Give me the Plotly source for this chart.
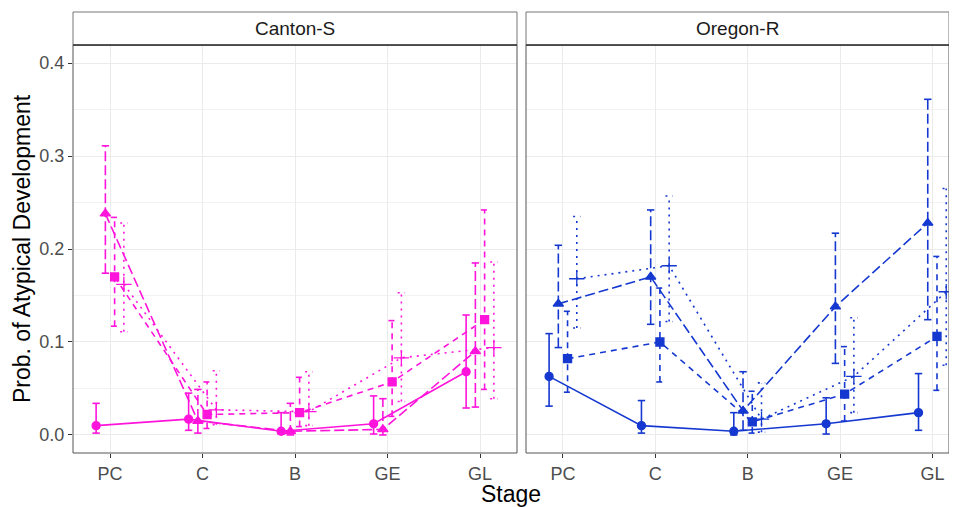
import plotly.graph_objects as go

# ---------------- data ----------------
stages = ["PC", "C", "B", "GE", "GL"]
strains = ["Canton-S", "Oregon-R"]
groups = ["G1", "G2", "G3", "G4"]          # circle/solid, triangle/longdash, square/dash, plus/dot

# Canton-S
cs_g1 = [0.010, 0.017, 0.004, 0.012, 0.068]
cs_g1_lo = [0.002, 0.005, 0.001, 0.001, 0.029]
cs_g1_hi = [0.034, 0.045, 0.024, 0.042, 0.129]
cs_g2 = [0.238, 0.015, 0.004, 0.006, 0.090]
cs_g2_lo = [0.174, 0.002, 0.000, 0.000, 0.030]
cs_g2_hi = [0.311, 0.049, 0.034, 0.039, 0.185]
cs_g3 = [0.170, 0.022, 0.024, 0.057, 0.124]
cs_g3_lo = [0.117, 0.007, 0.009, 0.020, 0.049]
cs_g3_hi = [0.234, 0.057, 0.062, 0.123, 0.242]
cs_g4 = [0.162, 0.027, 0.025, 0.083, 0.094]
cs_g4_lo = [0.111, 0.011, 0.010, 0.036, 0.039]
cs_g4_hi = [0.228, 0.069, 0.068, 0.153, 0.186]

# Oregon-R
or_g1 = [0.063, 0.010, 0.004, 0.012, 0.024]
or_g1_lo = [0.031, 0.002, 0.000, 0.001, 0.005]
or_g1_hi = [0.109, 0.037, 0.024, 0.040, 0.066]
or_g2 = [0.141, 0.170, 0.026, 0.138, 0.228]
or_g2_lo = [0.094, 0.119, 0.005, 0.077, 0.124]
or_g2_hi = [0.204, 0.242, 0.068, 0.217, 0.361]
or_g3 = [0.082, 0.100, 0.014, 0.044, 0.106]
or_g3_lo = [0.046, 0.057, 0.002, 0.015, 0.048]
or_g3_hi = [0.133, 0.158, 0.047, 0.095, 0.192]
or_g4 = [0.168, 0.182, 0.017, 0.063, 0.154]
or_g4_lo = [0.115, 0.122, 0.003, 0.024, 0.075]
or_g4_hi = [0.235, 0.257, 0.056, 0.126, 0.265]

series = {
    "Canton-S": [(cs_g1, cs_g1_lo, cs_g1_hi), (cs_g2, cs_g2_lo, cs_g2_hi),
                 (cs_g3, cs_g3_lo, cs_g3_hi), (cs_g4, cs_g4_lo, cs_g4_hi)],
    "Oregon-R": [(or_g1, or_g1_lo, or_g1_hi), (or_g2, or_g2_lo, or_g2_hi),
                 (or_g3, or_g3_lo, or_g3_hi), (or_g4, or_g4_lo, or_g4_hi)],
}

# ---------------- styles ----------------
colors = {"Canton-S": "#FF14DC", "Oregon-R": "#1538D0"}
dashes = ["solid", "10px,4px", "6px,5px", "2px,5px"]
symbols = ["circle", "triangle-up", "square", "cross-thin"]
msizes = [8, 9, 8, 11]
dodge = [-0.15, -0.05, 0.05, 0.15]
cap = 0.04
FONT = "Liberation Sans, Arial, sans-serif"

fig = go.Figure()
# the page body has an 8px margin: the figure starts at (8, 8) in the window
W, H = 949, 499
L, R, T, B = 65, 8, 37, 54
pw = W - L - R
dom1 = [0, 444 / pw]
dom2 = [453 / pw, 1]

axes = [("x", "y"), ("x2", "y2")]
for si, strain in enumerate(strains):
    xa, ya = axes[si]
    col = colors[strain]
    for gi, (vals, lo, hi) in enumerate(series[strain]):
        xs = [i + 1 + dodge[gi] for i in range(len(stages))]
        # error bars with caps
        ex, ey = [], []
        for x, l, h in zip(xs, lo, hi):
            ex += [x, x, None, x - cap, x + cap, None, x - cap, x + cap, None]
            ey += [l, h, None, h, h, None, l, l, None]
        fig.add_trace(go.Scatter(x=ex, y=ey, mode="lines", xaxis=xa, yaxis=ya,
                                 line=dict(color=col, width=1.6, dash=dashes[gi]),
                                 hoverinfo="skip", showlegend=False))
        # connecting line + markers
        fig.add_trace(go.Scatter(x=xs, y=vals, mode="lines+markers", xaxis=xa, yaxis=ya,
                                 name=groups[gi],
                                 line=dict(color=col, width=1.6, dash=dashes[gi]),
                                 marker=dict(symbol=symbols[gi], size=msizes[gi], color=col,
                                             line=dict(color=col, width=1.3)),
                                 showlegend=False))

yrange = [-0.0194, 0.4194]
common_x = dict(range=[0.6, 5.4], tickvals=[1, 2, 3, 4, 5], ticktext=stages,
                showgrid=True, gridcolor="#EBEBEB", gridwidth=1.1, zeroline=False,
                ticks="outside", ticklen=4, tickcolor="#333333", tickwidth=1,
                tickfont=dict(family=FONT, size=18, color="#4D4D4D"),
                showline=False, fixedrange=True)
fig.update_layout(
    xaxis=dict(domain=dom1, anchor="y", **common_x),
    xaxis2=dict(domain=dom2, anchor="y2", **{**common_x, "range": [0.6, 5.18]}),
    yaxis=dict(domain=[0, 1], anchor="x", range=yrange,
               tickvals=[0, 0.1, 0.2, 0.3, 0.4], ticktext=["0.0", "0.1", "0.2", "0.3", "0.4"],
               showgrid=True, gridcolor="#EBEBEB", gridwidth=1.1, zeroline=False,
               minor=dict(tickvals=[0.05, 0.15, 0.25, 0.35], showgrid=True,
                          gridcolor="#F2F2F2", gridwidth=0.6, ticks=""),
               ticks="outside", ticklen=4, tickcolor="#333333",
               tickfont=dict(family=FONT, size=18, color="#4D4D4D")),
    yaxis2=dict(domain=[0, 1], anchor="x2", range=yrange, matches="y",
                tickvals=[0, 0.1, 0.2, 0.3, 0.4], showticklabels=False,
                showgrid=True, gridcolor="#EBEBEB", gridwidth=1.1, zeroline=False,
                minor=dict(tickvals=[0.05, 0.15, 0.25, 0.35], showgrid=True,
                           gridcolor="#F2F2F2", gridwidth=0.6, ticks=""),
                ticks=""),
    width=W, height=H,
    margin=dict(l=L, r=R, t=T, b=B),
    paper_bgcolor="white", plot_bgcolor="white",
    showlegend=False,
)

strip_h = 33 / (H - T - B)
shapes = []
annotations = []
for si, strain in enumerate(strains):
    xa = "x" if si == 0 else "x2"
    ya = "y" if si == 0 else "y2"
    # panel border
    shapes.append(dict(type="rect", xref=f"{xa} domain", yref=f"{ya} domain",
                       x0=0, x1=1, y0=0, y1=1, line=dict(color="#555555", width=1),
                       fillcolor="rgba(0,0,0,0)", layer="above"))
    # strip
    shapes.append(dict(type="rect", xref=f"{xa} domain", yref="paper",
                       x0=0, x1=1, y0=1, y1=1 + strip_h,
                       line=dict(color="#777777", width=1), fillcolor="white", layer="above"))
    shapes.append(dict(type="line", xref=f"{xa} domain", yref="paper",
                       x0=0, x1=1, y0=1, y1=1, line=dict(color="#333333", width=1.6), layer="above"))
    annotations.append(dict(text=strain, xref=f"{xa} domain", yref="paper",
                            x=0.5, y=1 + strip_h / 2, showarrow=False,
                            font=dict(family=FONT, size=19, color="#1A1A1A"),
                            xanchor="center", yanchor="middle"))

annotations.append(dict(text="Stage", xref="paper", yref="paper", x=0.5, y=0,
                        yshift=-41, showarrow=False, yanchor="middle",
                        font=dict(family=FONT, size=23, color="black")))
annotations.append(dict(text="Prob. of Atypical Development", xref="paper", yref="paper",
                        x=0, xshift=-51, y=0.5, textangle=-90, showarrow=False,
                        xanchor="center", yanchor="middle",
                        font=dict(family=FONT, size=23, color="black")))
fig.update_layout(shapes=shapes, annotations=annotations)

fig.write_html("out.html")
